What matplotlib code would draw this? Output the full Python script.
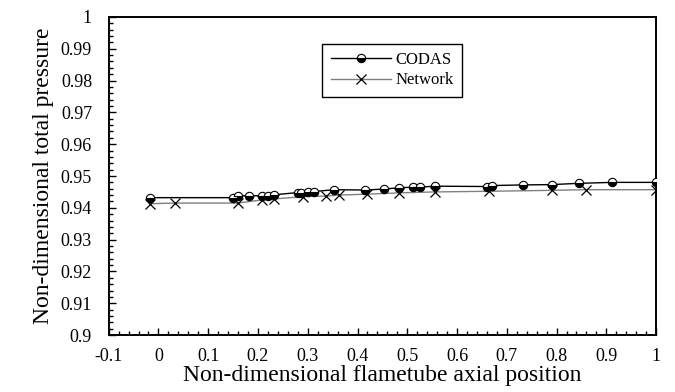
""" Presion total adimensional a lo largo del tubo de llama """

import matplotlib
matplotlib.use('Agg')
import matplotlib.pyplot as plt
from matplotlib.ticker import MultipleLocator, FuncFormatter


#!Datos
codas_x = [-0.016, 0.149, 0.159, 0.181, 0.209, 0.221, 0.233, 0.28, 0.286, 0.3,
           0.312, 0.352, 0.416, 0.453, 0.483, 0.512, 0.525, 0.555, 0.66, 0.67,
           0.732, 0.79, 0.845, 0.912, 1.0]
codas_y = [0.9432, 0.9432, 0.9438, 0.9438, 0.9438, 0.9438, 0.9441, 0.9448, 0.9448, 0.9451,
           0.9451, 0.9457, 0.9456, 0.9459, 0.9463, 0.9465, 0.9465, 0.9468, 0.9467, 0.947,
           0.9472, 0.9473, 0.9477, 0.948, 0.948]

network_x = [-0.016, 0.033, 0.159, 0.209, 0.233, 0.29, 0.336, 0.362, 0.42, 0.483,
             0.555, 0.665, 0.79, 0.86, 1.0]
network_y = [0.9413, 0.9415, 0.9415, 0.9425, 0.9428, 0.9435, 0.9437, 0.944, 0.9443, 0.9447,
             0.945, 0.9452, 0.9455, 0.9457, 0.9457]


def etiqueta(v, pos):
    #!quitar ceros sobrantes: 1, 0, 0.1, 0.99
    txt = f'{v:.2f}'.rstrip('0').rstrip('.')
    return '0' if txt in ('-0', '') else txt


plt.rcParams['font.family'] = ['Liberation Serif', 'DejaVu Serif']

fig = plt.figure(figsize=(6.75, 3.92), dpi=100)
ax = fig.add_axes([0.161, 0.145, 0.811, 0.812])

ax.plot(network_x, network_y, color='#808080', lw=1.0, marker='x', ms=7,
        mec='black', mew=0.9, label='Network', zorder=2)
ax.plot(codas_x, codas_y, color='black', lw=1.0, marker='o', ms=6,
        mfc='black', mec='black', mew=0.8, fillstyle='bottom',
        markerfacecoloralt='white', label='CODAS', zorder=3)

ax.set_xlim(-0.1, 1.0)
ax.set_ylim(0.9, 1.0)
ax.xaxis.set_major_locator(MultipleLocator(0.1))
ax.xaxis.set_minor_locator(MultipleLocator(0.02))
ax.yaxis.set_major_locator(MultipleLocator(0.01))
ax.yaxis.set_minor_locator(MultipleLocator(0.002))
ax.xaxis.set_major_formatter(FuncFormatter(etiqueta))
ax.yaxis.set_major_formatter(FuncFormatter(etiqueta))

ax.tick_params(which='both', direction='in', labelsize=13, width=1)
ax.tick_params(which='major', length=5)
ax.tick_params(which='minor', length=3)
ax.tick_params(axis='x', which='major', pad=9)
ax.tick_params(axis='y', which='major', pad=12)
for s in ax.spines.values():
    s.set_linewidth(1.4)

ax.set_xlabel('Non-dimensional flametube axial position', fontsize=17, labelpad=0)
ax.set_ylabel('Non-dimensional total pressure', fontsize=17, labelpad=5)

handles, labels = ax.get_legend_handles_labels()
leg = ax.legend(handles[::-1], labels[::-1], loc='upper left',
                bbox_to_anchor=(0.39, 0.915), borderaxespad=0, fontsize=12,
                fancybox=False, edgecolor='black', framealpha=1,
                handlelength=3.6, handletextpad=0.3, borderpad=0.5,
                labelspacing=0.25)
leg.get_frame().set_linewidth(1.0)

fig.savefig('out.png', dpi=100)
